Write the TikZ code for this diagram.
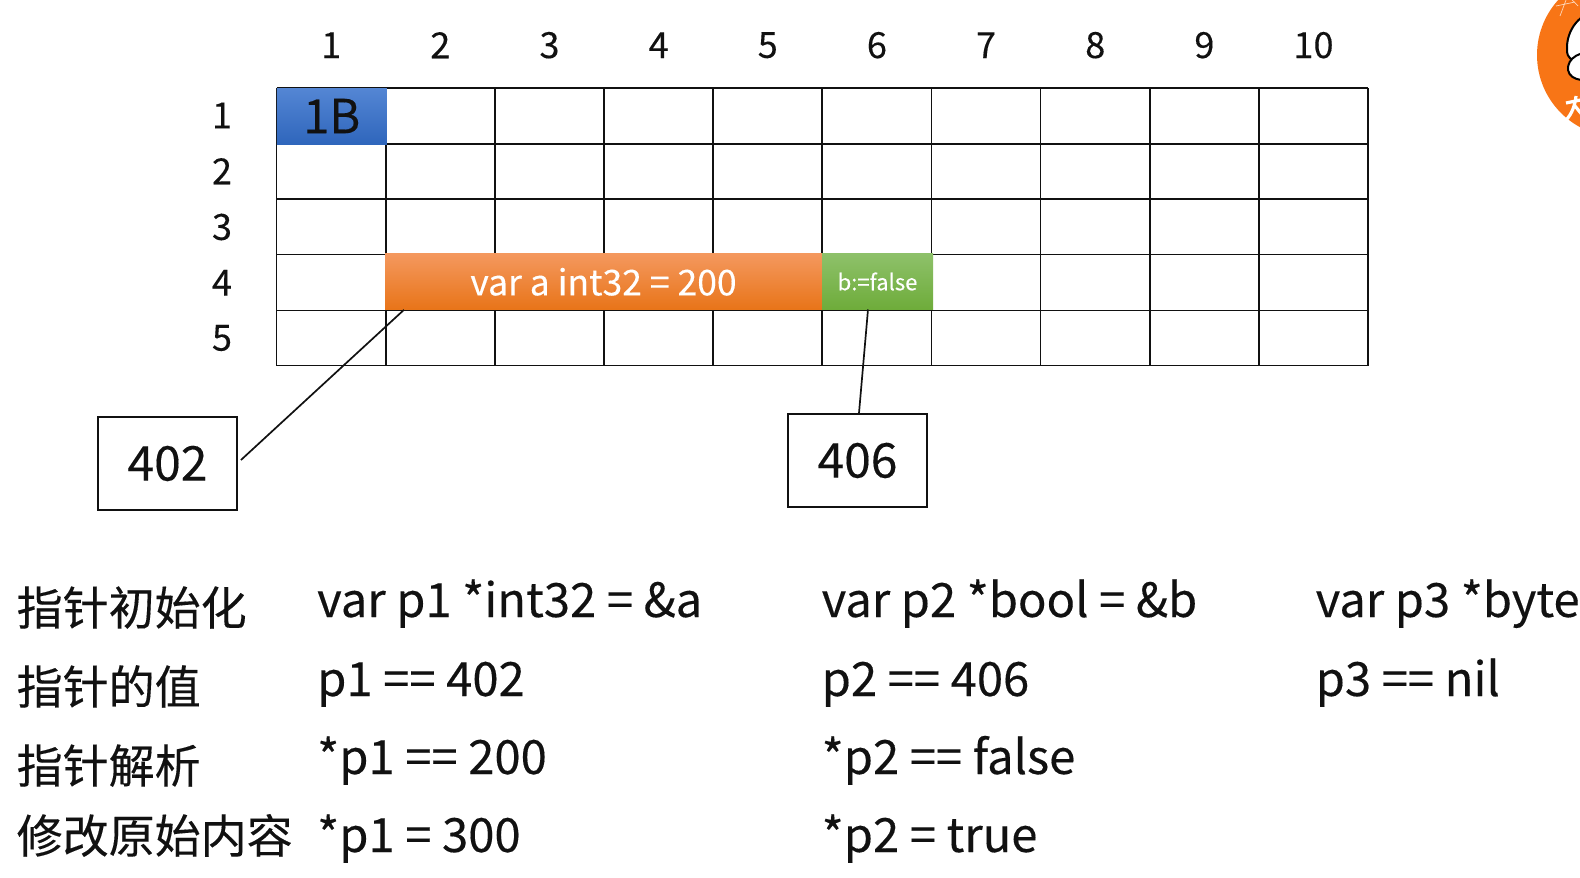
\documentclass[tikz,border=0pt]{standalone}
\usepackage{fontspec}
\setmainfont{Noto Sans CJK SC}[FakeBold=0.25]
\usetikzlibrary{calc}
\definecolor{inkc}{HTML}{111111}
\definecolor{logoorange}{RGB}{248,117,22}
\tikzset{
  gridline/.style={draw=inkc,line width=1.8pt},
  head/.style={font=\fontsize{36}{36}\selectfont,text=inkc,inner sep=0pt},
  addr/.style={draw=inkc,line width=1.9pt,fill=white,font=\fontsize{48}{48}\selectfont,text=inkc,inner sep=0pt,minimum width=139pt,minimum height=93pt},
  cell/.style={inner sep=0pt,outer sep=0pt,minimum height=56pt},
  code/.style={anchor=base west,font=\fontsize{47.2}{47}\selectfont,text=inkc,inner sep=0pt},
  cjklabel/.style={anchor=base west,font=\fontsize{46}{46}\selectfont,text=inkc,inner sep=0pt},
  link/.style={draw=inkc,line width=1.7pt},
}
\begin{document}
\begin{tikzpicture}[x=1pt,y=-1pt]
\useasboundingbox (0,0) rectangle (1580,878);
\fill[white] (0,0) rectangle (1580,878);
% logo
\begin{scope}
\clip (0,0) rectangle (1580,878);
\fill[logoorange] (1619,55) circle (82);
\draw[fill=white,draw=black,line width=2pt] (1600,10) .. controls (1580,12) and (1566,30) .. (1567,50) .. controls (1567,58) and (1572,62) .. (1578,58) .. controls (1600,50) and (1620,40) .. (1600,10) -- cycle;
\draw[fill=white,draw=black,line width=2pt] (1600,52) .. controls (1580,50) and (1567,58) .. (1568,70) .. controls (1570,82) and (1590,82) .. (1600,78) -- cycle;
\draw[white,line width=3.2pt] (1566,103) -- (1590,98) (1576,96) .. controls (1575,105) and (1572,114) .. (1566,120) (1575,106) -- (1588,122);
\draw[white!70!logoorange,line width=.7pt] (1556,6) -- (1575,2) (1566,0) -- (1560,16) (1572,0) -- (1578,6);
\end{scope}
% grid
\foreach \i in {0,...,10} \draw[gridline] ({276.5+109.15*\i},88) -- ({276.5+109.15*\i},365.5);
\foreach \y in {88,144,199.2,254.5,310.5,365.5} \draw[gridline] (276.5,\y) -- (1368,\y);
% headers
\foreach \i in {1,...,10} \node[head] at ({276.6+109.15*(\i-.5)},45.2) {\i};
\foreach \i/\y in {1/115.5,2/171.2,3/227,4/282.8,5/338} \node[head] at (222,\y) {\i};
% cells
\node[cell,minimum width=110pt,minimum height=56pt,top color={rgb,255:red,84;green,134;blue,212},bottom color={rgb,255:red,47;green,102;blue,188},text=inkc,font=\fontsize{47}{47}\selectfont] (oneb) at (331.75,116) {1B};
\node[cell,minimum width=437pt,top color={rgb,255:red,244;green,152;blue,94},bottom color={rgb,255:red,232;green,116;blue,24},text=white,font=\fontsize{35.5}{35}\selectfont] (bar) at (603.5,281.8) {var a int32 = 200};
\node[cell,minimum width=111pt,top color={rgb,255:red,142;green,193;blue,106},bottom color={rgb,255:red,110;green,172;blue,58},text=white,font=\fontsize{22}{22}\selectfont] (flag) at (877.5,281.5) {b:=false};
% addresses
\node[addr] (a402) at (167.5,463.5) {402};
\node[addr] (a406) at (857.5,460.5) {406};
\draw[link] ($(a402.east)+(3,-3.5)$) -- ($(bar.south west)+(19,0)$);
\draw[link] ($(a406.north)+(1.5,0)$) -- ($(flag.south)+(-9.5,0)$);
% text rows
\node[cjklabel] (t1) at (16.5,625) {指针初始化};
\node[cjklabel] (t2) at (16.5,704) {指针的值};
\node[cjklabel] (t3) at (16.5,783) {指针解析};
\node[cjklabel] (t4) at (16.5,853) {修改原始内容};
\node[code] (a1) at (317,617) {var p1 *int32 = \&a};
\node[code] (a2) at (317,696) {p1 == 402};
\node[code] (a3) at (317,774) {*p1 == 200};
\node[code] (a4) at (317,852) {*p1 = 300};
\node[code] (b1) at (821.5,617) {var p2 *bool = \&b};
\node[code] (b2) at (821.5,696) {p2 == 406};
\node[code] (b3) at (821.5,774) {*p2 == false};
\node[code] (b4) at (821.5,852) {*p2 = true};
\node[code] (c1) at (1315.5,617) {var p3 *byte};
\node[code] (c2) at (1315.5,696) {p3 == nil};
\end{tikzpicture}
\end{document}
